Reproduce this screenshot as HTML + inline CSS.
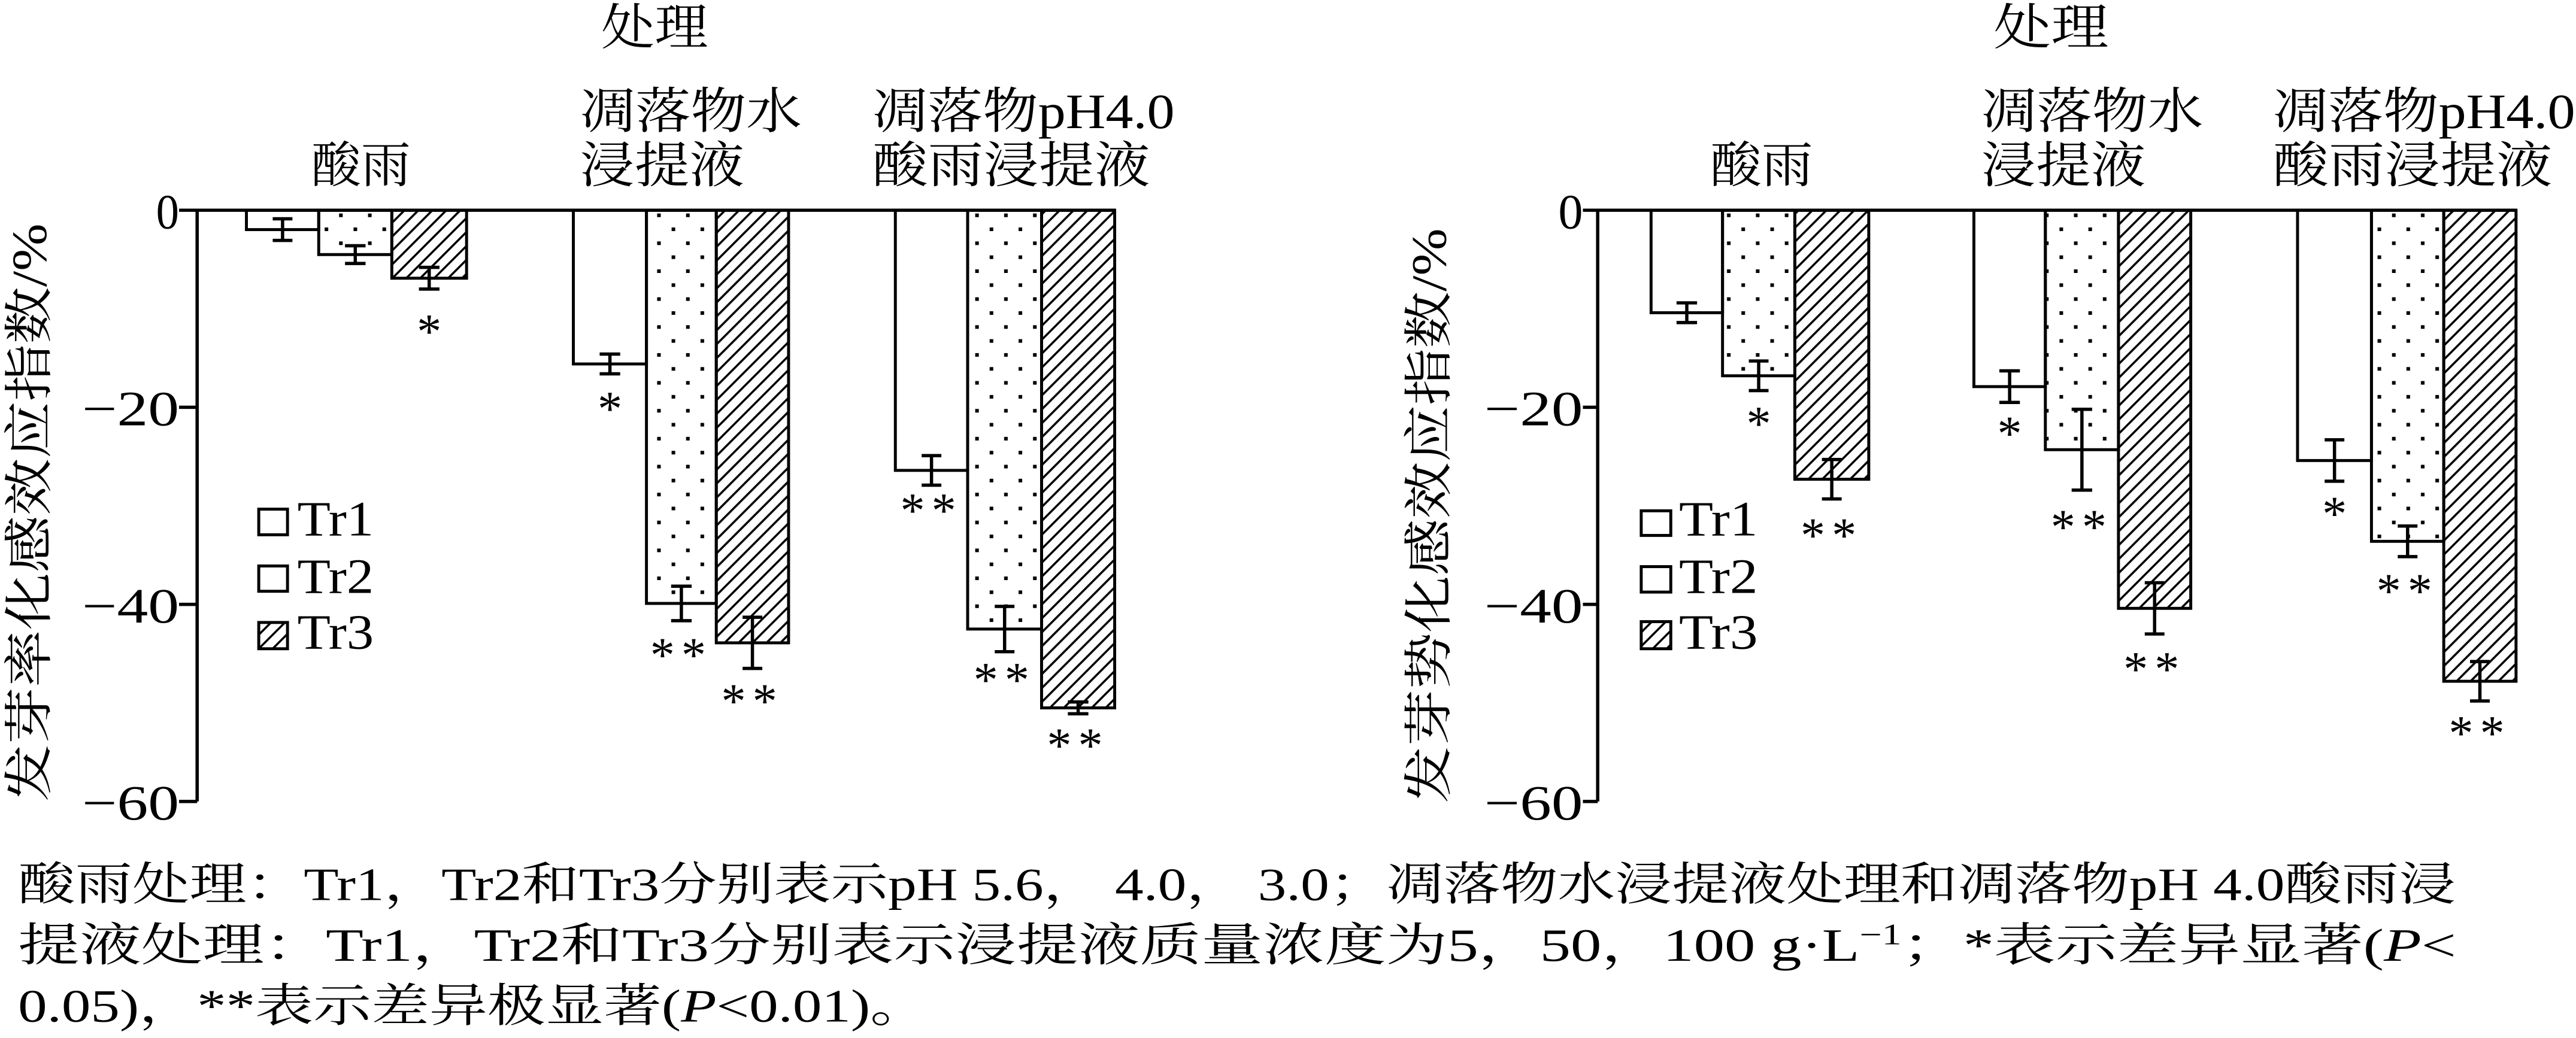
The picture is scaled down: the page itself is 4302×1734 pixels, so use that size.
<!DOCTYPE html>
<html><head><meta charset="utf-8"><style>
html,body{margin:0;padding:0;background:#fff;}
svg{display:block;}
text{font-family:"Liberation Serif","Noto Serif CJK SC",serif;fill:#000;}
</style></head><body>
<svg width="4302" height="1734" viewBox="0 0 1568 632" preserveAspectRatio="none" xmlns="http://www.w3.org/2000/svg">
<defs>
<pattern id="dots" width="17.6" height="17" patternUnits="userSpaceOnUse" x="0" y="0">
<rect x="4" y="2.5" width="2.2" height="2.2" fill="#000"/>
<rect x="12.8" y="11" width="2.2" height="2.2" fill="#000"/>
</pattern>
<pattern id="hatch" width="6" height="6" patternUnits="userSpaceOnUse" patternTransform="rotate(45)">
<rect x="0" y="0" width="1.3" height="6" fill="#000"/>
</pattern>
</defs>
<rect width="1568" height="632" fill="#fff"/>

<!-- LEFT CHART -->
<g font-size="30">
<text x="366" y="27" textLength="65" lengthAdjust="spacingAndGlyphs">处理</text>
<text x="189.5" y="111" textLength="60.5" lengthAdjust="spacingAndGlyphs">酸雨</text>
<text x="353" y="78" textLength="135" lengthAdjust="spacingAndGlyphs">凋落物水</text>
<text x="353" y="111" textLength="100" lengthAdjust="spacingAndGlyphs">浸提液</text>
<text x="531" y="78" textLength="184" lengthAdjust="spacingAndGlyphs">凋落物pH4.0</text>
<text x="531" y="111" textLength="169" lengthAdjust="spacingAndGlyphs">酸雨浸提液</text>
<text transform="translate(28,312) rotate(-90)" text-anchor="middle" textLength="352" lengthAdjust="spacingAndGlyphs">发芽率化感效应指数/%</text>
<text x="109" y="139" text-anchor="end" textLength="14" lengthAdjust="spacingAndGlyphs">0</text>
<text x="109" y="259" text-anchor="end" textLength="59" lengthAdjust="spacingAndGlyphs">−20</text>
<text x="109" y="379" text-anchor="end" textLength="59" lengthAdjust="spacingAndGlyphs">−40</text>
<text x="109" y="499" text-anchor="end" textLength="59" lengthAdjust="spacingAndGlyphs">−60</text>
</g>
<g stroke="#000" stroke-width="1.8" fill="none">
<rect x="150" y="128" width="44" height="11.8" fill="#fff"/>
<rect x="194" y="128" width="44.5" height="27" fill="url(#dots)"/>
<rect x="238.5" y="128" width="45.5" height="41.4" fill="url(#hatch)"/>
<rect x="349" y="128" width="44.5" height="93.6" fill="#fff"/>
<rect x="393.5" y="128" width="42.5" height="239.4" fill="url(#dots)"/>
<rect x="436" y="128" width="44" height="263.4" fill="url(#hatch)"/>
<rect x="545" y="128" width="44" height="158.4" fill="#fff"/>
<rect x="589" y="128" width="45" height="255" fill="url(#dots)"/>
<rect x="634" y="128" width="44.5" height="303" fill="url(#hatch)"/>
<path d="M120 128V488M109 128H120M109 248H120M109 368H120M109 488H120M120 128H679" stroke-width="2"/>
<!-- error bars -->
<path d="M172 133.2V146.4M166 133.2H178M166 146.4H178
M216.25 149.6V160.4M210 149.6H222.5M210 160.4H222.5
M261.25 162.8V176M255 162.8H267.5M255 176H267.5
M371.25 215.6V227.6M365 215.6H377.5M365 227.6H377.5
M414.75 356.9V377.9M408.5 356.9H421M408.5 377.9H421
M458 375.8V407M452 375.8H464M452 407H464
M567 277.4V295.4M561 277.4H573M561 295.4H573
M611.5 369.2V396.8M605.5 369.2H617.5M605.5 396.8H617.5
M656.25 427.4V434.6M650 427.4H662.5M650 434.6H662.5" stroke-width="2"/>
<rect x="157.5" y="310" width="17.5" height="15.6" fill="#fff"/>
<rect x="157.5" y="344.6" width="17.5" height="15.4" fill="#fff"/>
<rect x="157.5" y="379" width="17.5" height="16" fill="url(#hatch)"/>
</g>
<g font-size="30">
<text x="181" y="326" textLength="46.5" lengthAdjust="spacingAndGlyphs">Tr1</text>
<text x="181" y="361" textLength="46.5" lengthAdjust="spacingAndGlyphs">Tr2</text>
<text x="181" y="395" textLength="46.5" lengthAdjust="spacingAndGlyphs">Tr3</text>
</g>
<g font-size="30" text-anchor="middle">
<text x="261.25" y="212">*</text>
<text x="371.25" y="259">*</text>
<text x="414.75" y="409" letter-spacing="4">**</text>
<text x="458" y="437" letter-spacing="4">**</text>
<text x="567" y="321" letter-spacing="4">**</text>
<text x="611.5" y="424" letter-spacing="4">**</text>
<text x="656.25" y="464" letter-spacing="4">**</text>
</g>

<!-- RIGHT CHART -->
<g font-size="30">
<text x="1213.5" y="27" textLength="70" lengthAdjust="spacingAndGlyphs">处理</text>
<text x="1041" y="111" textLength="62.5" lengthAdjust="spacingAndGlyphs">酸雨</text>
<text x="1206" y="78" textLength="135" lengthAdjust="spacingAndGlyphs">凋落物水</text>
<text x="1206" y="111" textLength="100" lengthAdjust="spacingAndGlyphs">浸提液</text>
<text x="1383.5" y="78" textLength="184" lengthAdjust="spacingAndGlyphs">凋落物pH4.0</text>
<text x="1383.5" y="111" textLength="170" lengthAdjust="spacingAndGlyphs">酸雨浸提液</text>
<text transform="translate(880,314) rotate(-90)" text-anchor="middle" textLength="350" lengthAdjust="spacingAndGlyphs">发芽势化感效应指数/%</text>
<text x="963.5" y="139" text-anchor="end" textLength="15" lengthAdjust="spacingAndGlyphs">0</text>
<text x="963.5" y="259" text-anchor="end" textLength="60" lengthAdjust="spacingAndGlyphs">−20</text>
<text x="963.5" y="379" text-anchor="end" textLength="60" lengthAdjust="spacingAndGlyphs">−40</text>
<text x="963.5" y="499" text-anchor="end" textLength="60" lengthAdjust="spacingAndGlyphs">−60</text>
</g>
<g stroke="#000" stroke-width="1.8" fill="none">
<rect x="1005" y="128" width="43.5" height="62.4" fill="#fff"/>
<rect x="1048.5" y="128" width="44" height="100.8" fill="url(#dots)"/>
<rect x="1092.5" y="128" width="45" height="163.8" fill="url(#hatch)"/>
<rect x="1201.5" y="128" width="43.5" height="107.4" fill="#fff"/>
<rect x="1245" y="128" width="44.5" height="145.8" fill="url(#dots)"/>
<rect x="1289.5" y="128" width="44" height="242.4" fill="url(#hatch)"/>
<rect x="1398.5" y="128" width="45" height="152.4" fill="#fff"/>
<rect x="1443.5" y="128" width="44" height="201.6" fill="url(#dots)"/>
<rect x="1487.5" y="128" width="44" height="286.8" fill="url(#hatch)"/>
<path d="M972.5 128V488M963.5 128H972.5M963.5 248H972.5M963.5 368H972.5M963.5 488H972.5M972.5 128H1532" stroke-width="2"/>
<path d="M1026.75 184.4V196.4M1020.5 184.4H1033M1020.5 196.4H1033
M1070.5 219.8V237.8M1064.5 219.8H1076.5M1064.5 237.8H1076.5
M1115 279.8V303.8M1109 279.8H1121M1109 303.8H1121
M1223.25 225.8V245M1217 225.8H1229.5M1217 245H1229.5
M1267.25 249.2V298.4M1261 249.2H1273.5M1261 298.4H1273.5
M1311.5 354.8V386M1305.5 354.8H1317.5M1305.5 386H1317.5
M1421 267.8V293M1415 267.8H1427M1415 293H1427
M1465.5 320.3V338.9M1459.5 320.3H1471.5M1459.5 338.9H1471.5
M1509.5 402.8V426.8M1503.5 402.8H1515.5M1503.5 426.8H1515.5" stroke-width="2"/>
<rect x="999" y="311" width="18" height="15" fill="#fff"/>
<rect x="999" y="345" width="18" height="15.5" fill="#fff"/>
<rect x="999" y="378.5" width="18" height="16.5" fill="url(#hatch)"/>
</g>
<g font-size="30">
<text x="1022" y="326" textLength="48" lengthAdjust="spacingAndGlyphs">Tr1</text>
<text x="1022" y="361" textLength="48" lengthAdjust="spacingAndGlyphs">Tr2</text>
<text x="1022" y="395" textLength="48" lengthAdjust="spacingAndGlyphs">Tr3</text>
</g>
<g font-size="30" text-anchor="middle">
<text x="1070.5" y="268">*</text>
<text x="1115" y="336" letter-spacing="4">**</text>
<text x="1223.25" y="274">*</text>
<text x="1267.25" y="331" letter-spacing="4">**</text>
<text x="1311.5" y="417.5" letter-spacing="4">**</text>
<text x="1421" y="323">*</text>
<text x="1465.5" y="370" letter-spacing="4">**</text>
<text x="1509.5" y="456.5" letter-spacing="4">**</text>
</g>

<!-- CAPTION -->
<g font-size="28">
<text x="11" y="548" textLength="1484" lengthAdjust="spacingAndGlyphs">酸雨处理：Tr1，Tr2和Tr3分别表示pH 5.6， 4.0， 3.0；凋落物水浸提液处理和凋落物pH 4.0酸雨浸</text>
<text x="11" y="585" textLength="1484" lengthAdjust="spacingAndGlyphs">提液处理：Tr1，Tr2和Tr3分别表示浸提液质量浓度为5，50，100 g·L<tspan dy="-10" font-size="18">−1</tspan><tspan dy="10">；*表示差异显著(</tspan><tspan font-style="italic">P</tspan>&lt;</text>
<text x="11" y="622" textLength="554" lengthAdjust="spacingAndGlyphs">0.05)，**表示差异极显著(<tspan font-style="italic">P</tspan>&lt;0.01)。</text>
</g>
</svg>
</body></html>
